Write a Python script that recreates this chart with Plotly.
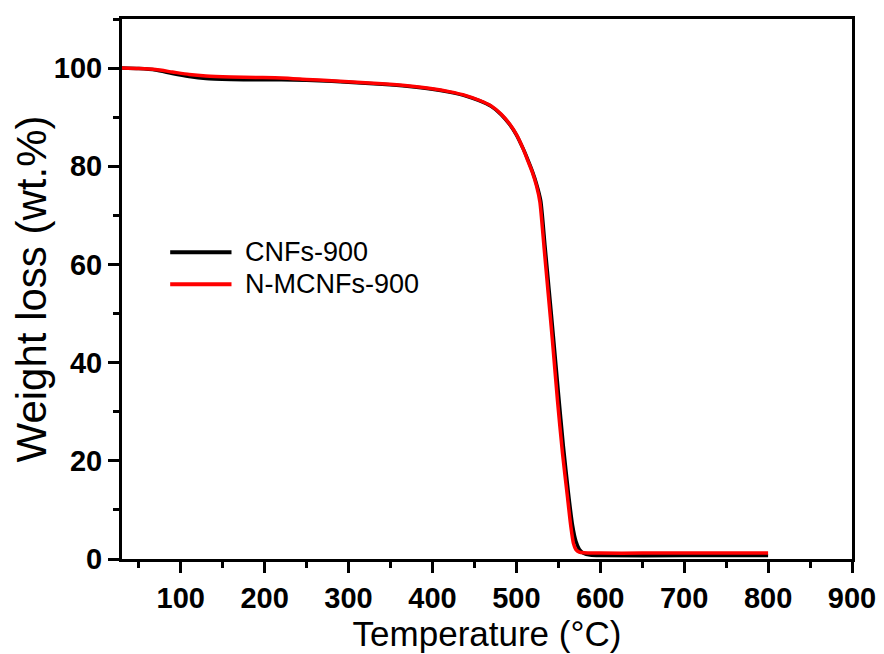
import plotly.graph_objects as go

# ---- data ----
temp_nmcnf = [30, 50, 70, 90, 110, 130, 160, 190, 220, 250, 280, 310, 340, 370, 400, 420, 440, 455,
              470, 482, 492, 500, 508, 514, 519, 524, 528, 533, 538, 543, 549, 555, 561, 565, 568,
              571, 575, 580, 600, 650, 700, 750, 800]
wt_nmcnf = [100, 99.9, 99.7, 99.2, 98.7, 98.4, 98.2, 98.1, 98.0, 97.7, 97.4, 97.1, 96.8, 96.4, 95.8,
            95.2, 94.4, 93.5, 92.3, 90.6, 88.6, 86.5, 83.6, 81.0, 78.8, 76.0, 72.8, 63.5, 54.0, 44.5,
            32.3, 21.5, 12.5, 6.5, 3.2, 1.9, 1.4, 1.25, 1.2, 1.2, 1.2, 1.2, 1.2]

temp_cnf = [30, 50, 70, 90, 110, 130, 160, 190, 220, 250, 280, 310, 340, 370, 400, 420, 440, 455,
            470, 482, 492, 500, 508, 514, 519, 524, 529, 534, 539, 544, 550, 556, 562, 567, 571,
            575, 580, 588, 600, 700, 800]
wt_cnf = [100, 99.9, 99.6, 98.9, 98.3, 97.9, 97.7, 97.6, 97.6, 97.5, 97.3, 97.0, 96.7, 96.3, 95.7,
          95.1, 94.3, 93.4, 92.2, 90.5, 88.5, 86.4, 83.6, 81.2, 79.0, 76.4, 73.0, 64.0, 54.8, 45.5,
          34.0, 23.0, 13.5, 6.8, 3.6, 2.0, 1.2, 0.8, 0.7, 0.7, 0.7]

series_names = ["CNFs-900", "N-MCNFs-900"]
series_colors = ["#000000", "#ff0000"]

x_ticks = [100, 200, 300, 400, 500, 600, 700, 800, 900]
y_ticks = [0, 20, 40, 60, 80, 100]

FONT = "Arial, 'Liberation Sans', sans-serif"

fig = go.Figure()
fig.add_trace(go.Scatter(x=temp_cnf, y=wt_cnf, mode="lines", name=series_names[0],
                         line=dict(color=series_colors[0], width=3.5, shape="spline", smoothing=0.6),
                         showlegend=False))
fig.add_trace(go.Scatter(x=temp_nmcnf, y=wt_nmcnf, mode="lines", name=series_names[1],
                         line=dict(color=series_colors[1], width=3.5, shape="spline", smoothing=0.6),
                         showlegend=False))

# manual legend (long line samples as in the reference)
leg_y = [0.568, 0.509]
for i in range(2):
    fig.add_shape(type="line", xref="paper", yref="paper", x0=0.066, x1=0.150,
                  y0=leg_y[i], y1=leg_y[i], line=dict(color=series_colors[i], width=4))
    fig.add_annotation(xref="paper", yref="paper", x=0.166, y=leg_y[i], text=series_names[i],
                       showarrow=False, xanchor="left", yanchor="middle",
                       font=dict(family=FONT, size=27, color="#000000"))

axis_common = dict(showline=True, linecolor="black", linewidth=3, mirror=True,
                   ticks="outside", tickwidth=3, tickcolor="black", ticklen=11,
                   showgrid=False, zeroline=False,
                   tickfont=dict(family=FONT, size=29, color="black", weight="bold"))

fig.update_xaxes(range=[30, 900], tickvals=x_ticks,
                 minor=dict(dtick=50, tick0=0, ticks="outside", ticklen=6, tickwidth=3, tickcolor="black"),
                 title=dict(text="Temperature (°C)", font=dict(family=FONT, size=35, color="black"), standoff=0),
                 **axis_common)
fig.update_yaxes(range=[0, 110], tickvals=y_ticks,
                 minor=dict(dtick=10, tick0=0, ticks="outside", ticklen=6, tickwidth=3, tickcolor="black"),
                 title=dict(text="Weight loss (wt.%)", font=dict(family=FONT, size=42, color="black"), standoff=7),
                 **axis_common)

fig.update_layout(width=884, height=654, margin=dict(l=114, r=40, t=11, b=103, autoexpand=False),
                  plot_bgcolor="white", paper_bgcolor="white", showlegend=False)

fig.write_html("out.html")
